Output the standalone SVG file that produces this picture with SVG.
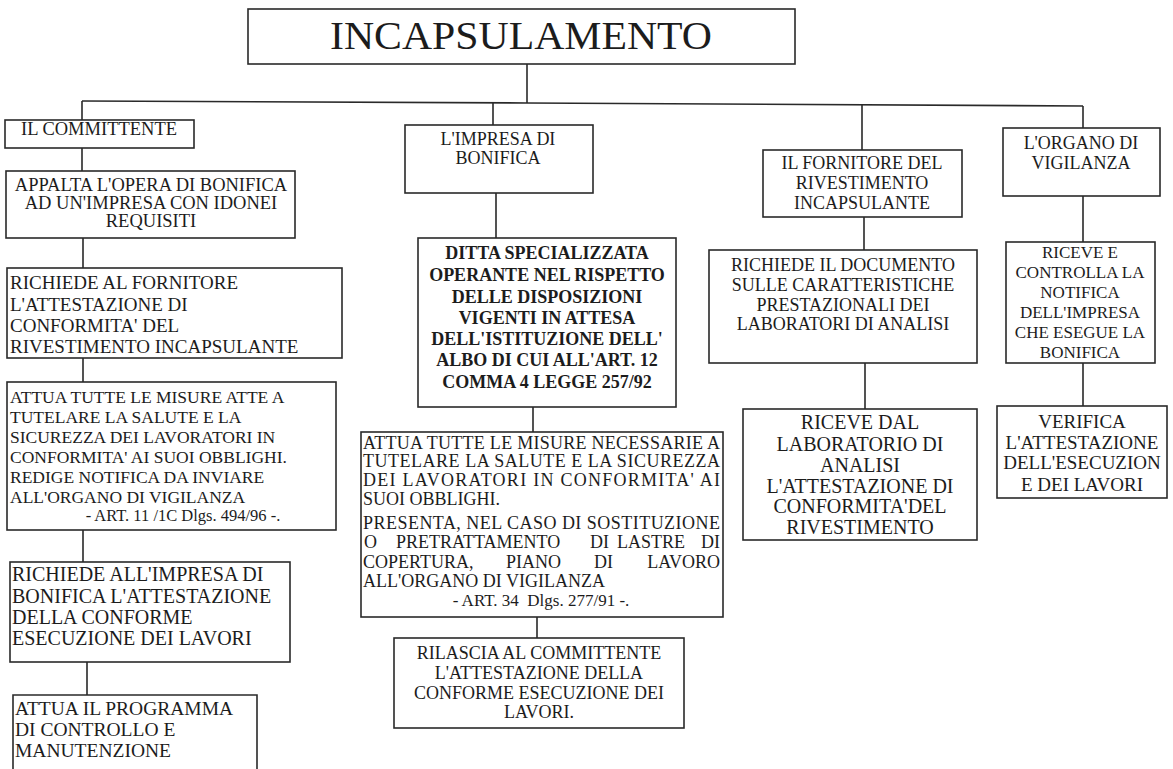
<svg xmlns="http://www.w3.org/2000/svg" width="1173" height="769" viewBox="0 0 1173 769">
<style>
.box{fill:#fff;stroke:#2a2a2a;stroke-width:1.6}
.ln{fill:none;stroke:#2a2a2a;stroke-width:1.6}
text{font-family:"Liberation Serif","Times New Roman",serif;fill:#1c1c1c}
.c{text-anchor:middle}
.e{text-anchor:end}
.s16{font-size:16.5px}.s17{font-size:17px}.s175{font-size:17.5px}.s18{font-size:18px}.s185{font-size:18.5px}.s19{font-size:19px}.s195{font-size:19.5px}.s20{font-size:20px}
.b{font-weight:bold}
</style>
<rect width="1173" height="769" fill="#fff"/>
<g id="connectors">
<path class="ln" d="M527,64V103"/>
<polyline class="ln" points="82,101 527,103 1083,106"/>
<path class="ln" d="M82,101V120M493,103V125M862,105V150M1083,106V128"/>
<path class="ln" d="M82,148V171M83,238V268M83,358V382M83,530V562M87,662V695"/>
<path class="ln" d="M496,193V238M533,407V432M537,617V638"/>
<path class="ln" d="M864,217V250M865,363V409"/>
<path class="ln" d="M1083,196V242M1083,363V406"/>
</g>
<g id="title">
<rect class="box" x="248" y="9" width="547" height="55"/>
<text class="c" x="521" y="49" font-size="41" textLength="382" lengthAdjust="spacingAndGlyphs">INCAPSULAMENTO</text>
</g>
<g id="committente">
<rect class="box" x="5" y="120" width="189" height="28"/>
<text class="c s185" x="99" y="134.5">IL COMMITTENTE</text>
</g>
<g id="appalta">
<rect class="box" x="6" y="171" width="289" height="67"/>
<text class="c s185" x="151" y="191">APPALTA L'OPERA DI BONIFICA</text>
<text class="c s185" x="151" y="209">AD UN'IMPRESA CON IDONEI</text>
<text class="c s185" x="151" y="227">REQUISITI</text>
</g>
<g id="richiede-fornitore">
<rect class="box" x="7" y="268" width="335" height="90"/>
<text class="s19" x="10" y="289">RICHIEDE AL FORNITORE</text>
<text class="s19" x="10" y="311">L'ATTESTAZIONE DI</text>
<text class="s19" x="10" y="332">CONFORMITA' DEL</text>
<text class="s19" x="10" y="353">RIVESTIMENTO INCAPSULANTE</text>
</g>
<g id="attua-committente">
<rect class="box" x="7" y="382" width="329" height="148"/>
<text class="s175" x="10" y="403">ATTUA TUTTE LE MISURE ATTE A</text>
<text class="s175" x="10" y="423">TUTELARE LA SALUTE E LA</text>
<text class="s175" x="10" y="443">SICUREZZA DEI LAVORATORI IN</text>
<text class="s175" x="10" y="463">CONFORMITA' AI SUOI OBBLIGHI.</text>
<text class="s175" x="10" y="483">REDIGE NOTIFICA DA INVIARE</text>
<text class="s175" x="10" y="503">ALL'ORGANO DI VIGILANZA</text>
<text class="c s16" x="183" y="521">- ART. 11 /1C Dlgs. 494/96 -.</text>
</g>
<g id="richiede-impresa">
<rect class="box" x="10" y="562" width="280" height="100"/>
<text class="s20" x="12" y="581">RICHIEDE ALL'IMPRESA DI</text>
<text class="s20" x="12" y="603">BONIFICA L'ATTESTAZIONE</text>
<text class="s20" x="12" y="624">DELLA CONFORME</text>
<text class="s20" x="12" y="645">ESECUZIONE DEI LAVORI</text>
</g>
<g id="programma">
<path class="box" d="M13,775V695H257V775"/>
<text class="s195" x="15" y="715">ATTUA IL PROGRAMMA</text>
<text class="s195" x="15" y="736">DI CONTROLLO E</text>
<text class="s195" x="15" y="757">MANUTENZIONE</text>
</g>
<g id="impresa">
<rect class="box" x="405" y="125" width="188" height="68"/>
<text class="c s18" x="498" y="145">L'IMPRESA DI</text>
<text class="c s18" x="498" y="164">BONIFICA</text>
</g>
<g id="ditta">
<rect class="box" x="418" y="238" width="258" height="169"/>
<text class="c s18 b" x="547" y="259">DITTA SPECIALIZZATA</text>
<text class="c s18 b" x="547" y="281">OPERANTE NEL RISPETTO</text>
<text class="c s18 b" x="547" y="303">DELLE DISPOSIZIONI</text>
<text class="c s18 b" x="547" y="324">VIGENTI IN ATTESA</text>
<text class="c s18 b" x="547" y="345">DELL'ISTITUZIONE DELL'</text>
<text class="c s18 b" x="547" y="366">ALBO DI CUI ALL'ART. 12</text>
<text class="c s18 b" x="547" y="388">COMMA 4 LEGGE 257/92</text>
</g>
<g id="attua-impresa">
<rect class="box" x="361" y="432" width="362" height="185"/>
<text class="s18" x="363" y="449" textLength="357">ATTUA TUTTE LE MISURE NECESSARIE A</text>
<text class="s18" x="363" y="467" textLength="357">TUTELARE LA SALUTE E LA SICUREZZA</text>
<text class="s18" x="363" y="486" textLength="357">DEI LAVORATORI IN CONFORMITA' AI</text>
<text class="s18" x="363" y="505">SUOI OBBLIGHI.</text>
<text class="s18" x="363" y="529" textLength="357">PRESENTA, NEL CASO DI SOSTITUZIONE</text>
<text class="s18" x="364" y="548">O</text>
<text class="s18" x="396" y="548">PRETRATTAMENTO</text>
<text class="s18" x="590" y="548">DI</text>
<text class="s18" x="617" y="548">LASTRE</text>
<text class="s18 e" x="720" y="548">DI</text>
<text class="s18" x="363" y="568">COPERTURA,</text>
<text class="s18" x="506" y="568">PIANO</text>
<text class="s18" x="594" y="568">DI</text>
<text class="s18 e" x="720" y="568">LAVORO</text>
<text class="s18" x="363" y="587">ALL'ORGANO DI VIGILANZA</text>
<text class="c s17" x="541" y="606" xml:space="preserve">- ART. 34  Dlgs. 277/91 -.</text>
</g>
<g id="rilascia">
<rect class="box" x="394" y="638" width="290" height="90"/>
<text class="c s18" x="539" y="659">RILASCIA AL COMMITTENTE</text>
<text class="c s18" x="539" y="679">L'ATTESTAZIONE DELLA</text>
<text class="c s18" x="539" y="699">CONFORME ESECUZIONE DEI</text>
<text class="c s18" x="539" y="718">LAVORI.</text>
</g>
<g id="fornitore">
<rect class="box" x="763" y="150" width="199" height="67"/>
<text class="c s18" x="862" y="169">IL FORNITORE DEL</text>
<text class="c s18" x="862" y="189">RIVESTIMENTO</text>
<text class="c s18" x="862" y="209">INCAPSULANTE</text>
</g>
<g id="richiede-documento">
<rect class="box" x="709" y="250" width="268" height="113"/>
<text class="c s18" x="843" y="271">RICHIEDE IL DOCUMENTO</text>
<text class="c s18" x="843" y="291">SULLE CARATTERISTICHE</text>
<text class="c s18" x="843" y="311">PRESTAZIONALI DEI</text>
<text class="c s18" x="843" y="330">LABORATORI DI ANALISI</text>
</g>
<g id="riceve-laboratorio">
<rect class="box" x="743" y="409" width="234" height="131"/>
<text class="c s20" x="860" y="429">RICEVE DAL</text>
<text class="c s20" x="860" y="451">LABORATORIO DI</text>
<text class="c s20" x="860" y="472">ANALISI</text>
<text class="c s20" x="860" y="493">L'ATTESTAZIONE DI</text>
<text class="c s20" x="860" y="513">CONFORMITA'DEL</text>
<text class="c s20" x="860" y="534">RIVESTIMENTO</text>
</g>
<g id="organo">
<rect class="box" x="1003" y="128" width="157" height="68"/>
<text class="c s18" x="1081" y="149">L'ORGANO DI</text>
<text class="c s18" x="1081" y="169">VIGILANZA</text>
</g>
<g id="riceve-notifica">
<rect class="box" x="1006" y="242" width="149" height="121"/>
<text class="c s17" x="1080" y="258">RICEVE E</text>
<text class="c s17" x="1080" y="278">CONTROLLA LA</text>
<text class="c s17" x="1080" y="298">NOTIFICA</text>
<text class="c s17" x="1080" y="318">DELL'IMPRESA</text>
<text class="c s17" x="1080" y="338">CHE ESEGUE LA</text>
<text class="c s17" x="1080" y="358">BONIFICA</text>
</g>
<g id="verifica">
<rect class="box" x="997" y="406" width="170" height="92"/>
<text class="c s19" x="1082" y="428">VERIFICA</text>
<text class="c s19" x="1082" y="449">L'ATTESTAZIONE</text>
<text class="c s19" x="1082" y="469">DELL'ESECUZION</text>
<text class="c s19" x="1082" y="491">E DEI LAVORI</text>
</g>
</svg>
